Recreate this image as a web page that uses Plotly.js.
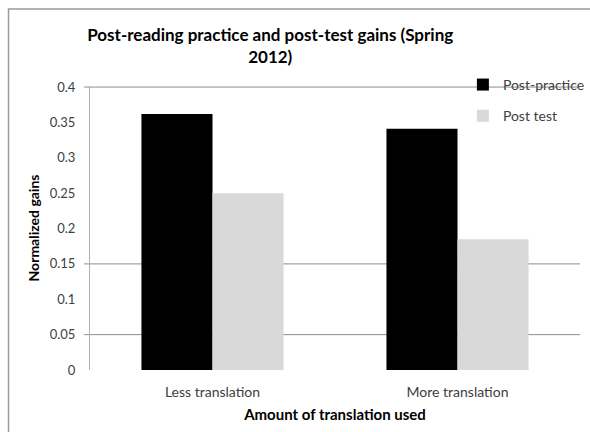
<!DOCTYPE html>
<html><head><meta charset="utf-8">
<script src="https://cdn.plot.ly/plotly-3.0.1.min.js"></script>
<style>html,body{margin:0;padding:0;background:#fff}#chart{width:590px;height:432px}</style>
</head><body><div id="chart"></div>
<script>
const categories = ["Less translation", "More translation"];
const postPractice = [0.362, 0.341];
const postTest = [0.25, 0.185];
const yTicks = [0, 0.05, 0.1, 0.15, 0.2, 0.25, 0.3, 0.35, 0.4];
const yTickText = ["0", "0.05", "0.1", "0.15", "0.2", "0.25", "0.3", "0.35", "0.4"];
const visibleGrid = [0.05, 0.15, 0.4];

const font = "Lato, 'Open Sans', sans-serif";
const traces = [
  {type: "bar", name: "Post-practice", x: categories, y: postPractice,
   marker: {color: "#000000"}, legendgroup: "a"},
  {type: "bar", name: "Post test", x: categories, y: postTest,
   marker: {color: "#d9d9d9"}, legendgroup: "b"}
];
const shapes = visibleGrid.map(v => ({type: "line", xref: "paper", yref: "y",
  x0: -0.012, x1: 1, y0: v, y1: v, line: {color: "#8c8c8c", width: 1}, layer: "below"}));
// outer chart frame (only top and left edges fall inside the picture)
shapes.push({type: "rect", xref: "paper", yref: "paper", x0: -81.5/490, x1: 1 + 30/490, y0: -80/284, y1: 1 + 77/284,
  line: {color: "#9a9a9a", width: 1.5}});
const layout = {
  width: 590, height: 432,
  margin: {l: 90, r: 10, t: 86, b: 62, autoexpand: false},
  paper_bgcolor: "#fff", plot_bgcolor: "#fff",
  font: {family: font, color: "#404040", size: 13},
  title: {text: "<b>Post-reading practice and post-test gains (Spring<br>2012)</b>",
    font: {family: font, size: 17, color: "#000"}, x: 0.458, xanchor: "center", y: 0.906, yanchor: "top"},
  barmode: "group", bargap: 0.42, bargroupgap: 0,
  xaxis: {showgrid: false, showline: false, ticks: "", ticklabelstandoff: 12,
    title: {text: "<b>Amount of translation used</b>", font: {family: font, size: 15, color: "#000"}, standoff: 10},
    tickfont: {size: 14, color: "#404040"}},
  yaxis: {range: [0, 0.4015], tickvals: yTicks, ticktext: yTickText, showgrid: false,
    showline: true, linecolor: "#b0b0b0", zeroline: false, ticks: "", ticklen: 0, ticklabelstandoff: 11,
    title: {text: "<b>Normalized gains</b>", font: {family: font, size: 14, color: "#000"}, standoff: 6},
    tickfont: {size: 13, color: "#404040"}},
  legend: {x: 0.761, xanchor: "left", y: 1.06, yanchor: "top", traceorder: "grouped",
    tracegroupgap: 10, bgcolor: "rgba(0,0,0,0)", font: {size: 14, color: "#404040"}, itemwidth: 30},
  shapes: shapes
};
Plotly.newPlot("chart", traces, layout, {displayModeBar: false, staticPlot: true});
</script></body></html>
